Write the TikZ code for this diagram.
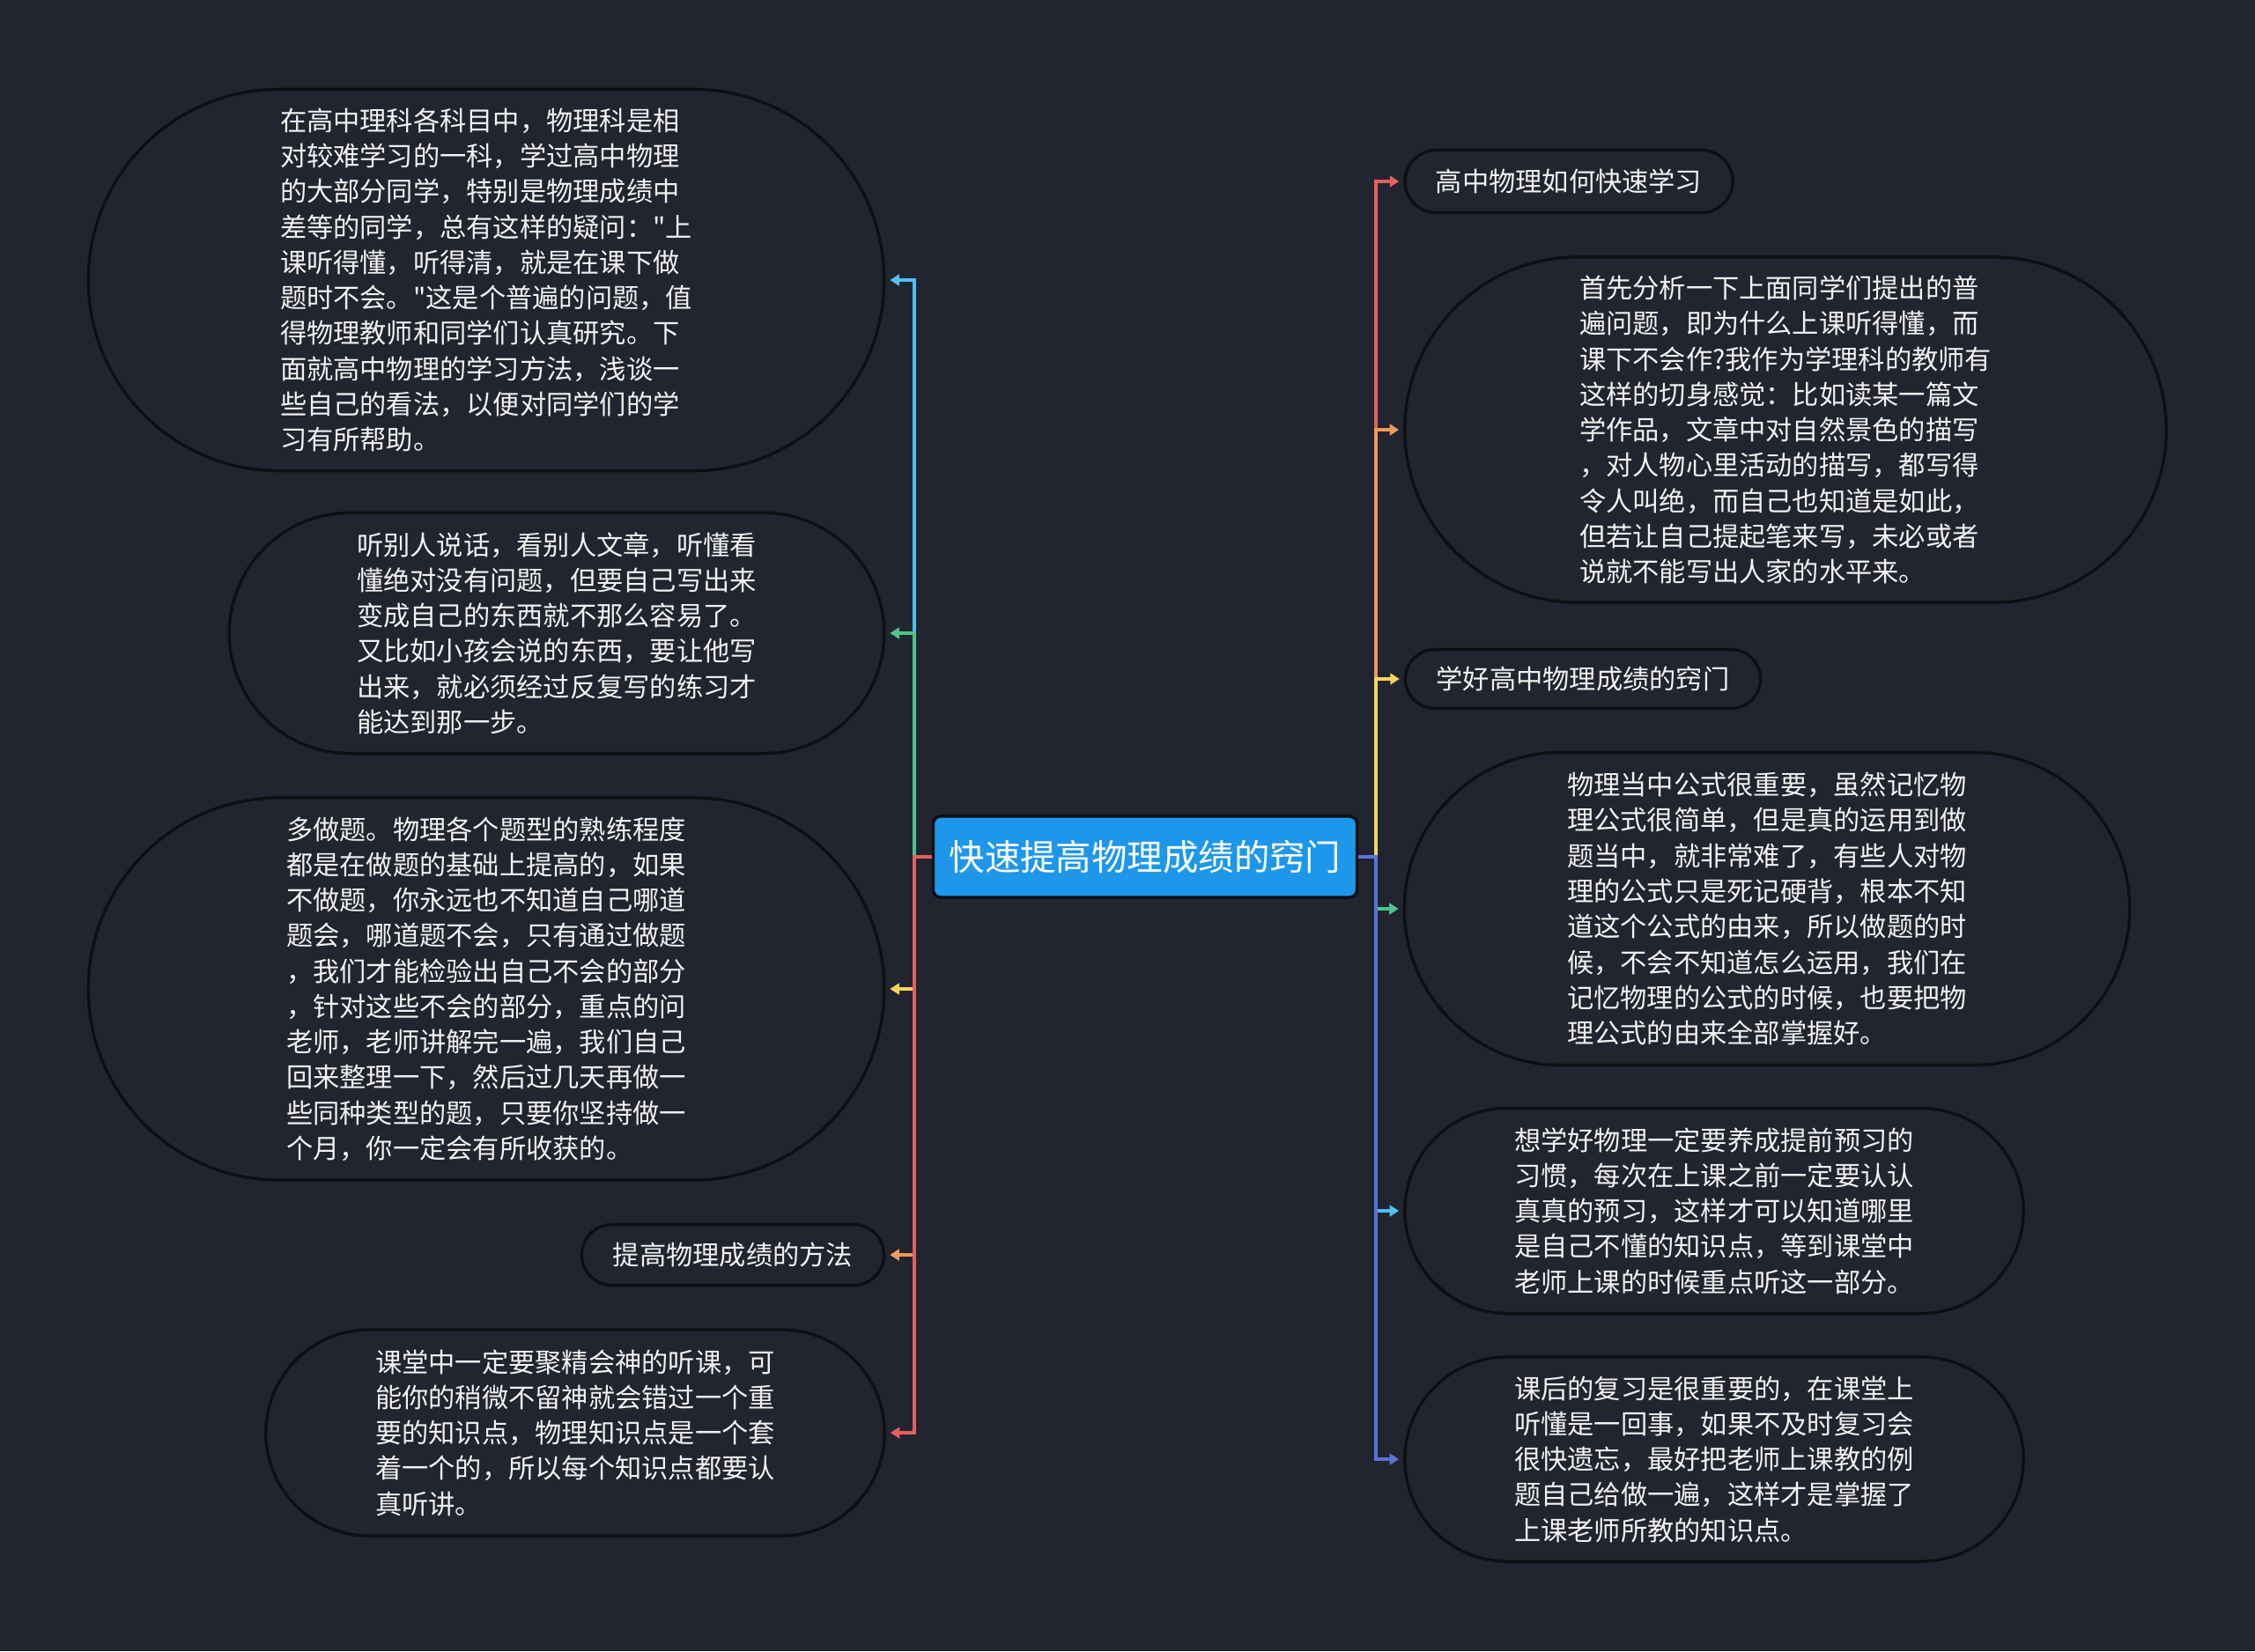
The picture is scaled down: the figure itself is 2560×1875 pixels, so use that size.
\documentclass[tikz,border=0pt]{standalone}
\usepackage{fontspec}
\usepackage{xcolor}
\usepackage{tikz}
\usetikzlibrary{shapes.misc, positioning, arrows.meta, calc}

\newfontfamily\cjk{Noto Sans CJK SC}

\definecolor{bgdark}{HTML}{22252F}
\definecolor{rimdark}{HTML}{0E0F13}
\definecolor{topicblue}{HTML}{1E97EA}
\definecolor{txtwhite}{HTML}{F2F2F2}
\definecolor{cred}{HTML}{E3605F}
\definecolor{corange}{HTML}{F0995A}
\definecolor{cyellow}{HTML}{F6D55C}
\definecolor{cgreen}{HTML}{4DC48C}
\definecolor{ccyan}{HTML}{4FC0F2}
\definecolor{cindigo}{HTML}{5A74D8}

\begin{document}
\begin{tikzpicture}[
    x=0.01cm, y=-0.01cm,
    topic/.style={draw=rimdark, line width=1pt, fill=topicblue, rounded corners=2.4pt, minimum width=4.81cm, minimum height=0.92cm, text=white, font={\cjk\fontsize{11.5}{14}\selectfont}},
    branch/.style={draw=rimdark, line width=0.95pt, rounded rectangle, fill=bgdark, align=left, inner sep=0pt, text=txtwhite, font={\cjk\fontsize{8.6}{11.45}\selectfont}},
    link/.style={line width=0.9pt, -{Triangle[length=3pt,width=3.6pt]}, shorten >=1.4pt}
]

    % --- BACKGROUND ---
    \fill[bgdark] (0,0) rectangle (2560,1875);

    % --- CENTRE ---
    \node[topic] (root) at (1300, 973) {快速提高物理成绩的窍门};
    \coordinate (ltrunk) at (1038, 973);
    \coordinate (rtrunk) at (1562, 973);

    % --- RIGHT BRANCHES ---
    \node[branch, minimum width=3.72cm, minimum height=0.71cm] (fast) at (1781, 206) {高中物理如何快速学习};
    \node[branch, minimum width=8.64cm, minimum height=3.92cm] (analyse) at (2027, 488) {首先分析一下上面同学们提出的普\\遍问题，即为什么上课听得懂，而\\课下不会作?我作为学理科的教师有\\这样的切身感觉：比如读某一篇文\\学作品，文章中对自然景色的描写\\，对人物心里活动的描写，都写得\\令人叫绝，而自己也知道是如此，\\但若让自己提起笔来写，未必或者\\说就不能写出人家的水平来。};
    \node[branch, minimum width=4.03cm, minimum height=0.67cm] (secret) at (1797, 771) {学好高中物理成绩的窍门};
    \node[branch, minimum width=8.23cm, minimum height=3.55cm] (formula) at (2006, 1032) {物理当中公式很重要，虽然记忆物\\理公式很简单，但是真的运用到做\\题当中，就非常难了，有些人对物\\理的公式只是死记硬背，根本不知\\道这个公式的由来，所以做题的时\\候，不会不知道怎么运用，我们在\\记忆物理的公式的时候，也要把物\\理公式的由来全部掌握好。};
    \node[branch, minimum width=7.02cm, minimum height=2.33cm] (preview) at (1946, 1375) {想学好物理一定要养成提前预习的\\习惯，每次在上课之前一定要认认\\真真的预习，这样才可以知道哪里\\是自己不懂的知识点，等到课堂中\\老师上课的时候重点听这一部分。};
    \node[branch, minimum width=7.02cm, minimum height=2.32cm] (review) at (1946, 1657) {课后的复习是很重要的，在课堂上\\听懂是一回事，如果不及时复习会\\很快遗忘，最好把老师上课教的例\\题自己给做一遍，这样才是掌握了\\上课老师所教的知识点。};

    % Right connectors (later ones lie on top)
    \draw[link, cred] (root.east) -- (rtrunk) |- (fast.west);
    \draw[link, corange] (root.east) -- (rtrunk) |- (analyse.west);
    \draw[link, cyellow] (root.east) -- (rtrunk) |- (secret.west);
    \draw[link, cgreen] (root.east) -- (rtrunk) |- (formula.west);
    \draw[link, ccyan] (root.east) -- (rtrunk) |- (preview.west);
    \draw[link, cindigo] (root.east) -- (rtrunk) |- (review.west);

    % --- LEFT BRANCHES ---
    \node[branch, minimum width=9.03cm, minimum height=4.33cm] (intro) at (552, 318) {在高中理科各科目中，物理科是相\\对较难学习的一科，学过高中物理\\的大部分同学，特别是物理成绩中\\差等的同学，总有这样的疑问："上\\课听得懂，听得清，就是在课下做\\题时不会。"这是个普遍的问题，值\\得物理教师和同学们认真研究。下\\面就高中物理的学习方法，浅谈一\\些自己的看法，以便对同学们的学\\习有所帮助。};
    \node[branch, minimum width=7.43cm, minimum height=2.73cm] (listen) at (632, 719) {听别人说话，看别人文章，听懂看\\懂绝对没有问题，但要自己写出来\\变成自己的东西就不那么容易了。\\又比如小孩会说的东西，要让他写\\出来，就必须经过反复写的练习才\\能达到那一步。};
    \node[branch, minimum width=9.03cm, minimum height=4.34cm] (practice) at (552, 1123) {多做题。物理各个题型的熟练程度\\都是在做题的基础上提高的，如果\\不做题，你永远也不知道自己哪道\\题会，哪道题不会，只有通过做题\\，我们才能检验出自己不会的部分\\，针对这些不会的部分，重点的问\\老师，老师讲解完一遍，我们自己\\回来整理一下，然后过几天再做一\\些同种类型的题，只要你坚持做一\\个月，你一定会有所收获的。};
    \node[branch, minimum width=3.43cm, minimum height=0.69cm] (method) at (832, 1425) {提高物理成绩的方法};
    \node[branch, minimum width=7.02cm, minimum height=2.34cm] (focus) at (653, 1627) {课堂中一定要聚精会神的听课，可\\能你的稍微不留神就会错过一个重\\要的知识点，物理知识点是一个套\\着一个的，所以每个知识点都要认\\真听讲。};

    % Left connectors
    \draw[link, ccyan] (root.west) -- (ltrunk) |- (intro.east);
    \draw[link, cgreen] (root.west) -- (ltrunk) |- (listen.east);
    \draw[link, cyellow] (root.west) -- (ltrunk) |- (practice.east);
    \draw[link, corange] (root.west) -- (ltrunk) |- (method.east);
    \draw[link, cred] (root.west) -- (ltrunk) |- (focus.east);

\end{tikzpicture}
\end{document}
